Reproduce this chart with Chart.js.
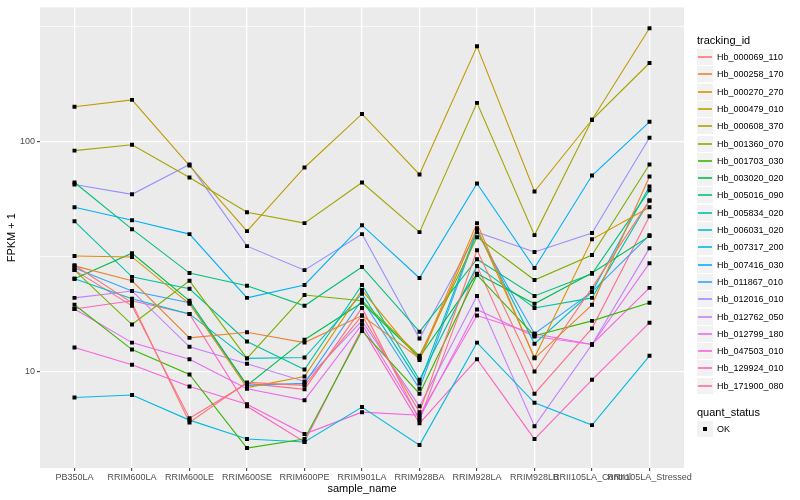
<!DOCTYPE html>
<html>
<head>
<meta charset="utf-8">
<script src="https://cdn.jsdelivr.net/npm/chart.js@4.4.1/dist/chart.umd.min.js"></script>
<style>
  body { margin: 0; background: #fff; }
  #wrap { position: relative; width: 800px; height: 500px; font-family: "Liberation Sans", Arial, sans-serif; }
  #chart { position: absolute; left: 0; top: 0; }
  .lg { position: absolute; white-space: nowrap; }
  .lg-title { font-size: 11px; color: #000; line-height: 14px; }
  .lg-key { width: 16px; height: 16px; background: #F2F2F2; }
  .lg-line { position: absolute; left: 1px; right: 1px; top: 7px; height: 2px; opacity: 0.8; }
  .lg-text { font-size: 9px; color: #000; line-height: 12px; }
</style>
</head>
<body>
<div id="wrap">
  <canvas id="chart" width="800" height="500"></canvas>
  <div id="legend"></div>
</div>
<script>
// --- DATA ---
const sampleNames = ["PB350LA", "RRIM600LA", "RRIM600LE", "RRIM600SE", "RRIM600PE", "RRIM901LA",
  "RRIM928BA", "RRIM928LA", "RRIM928LB", "RRII105LA_Control", "RRII105LA_Stressed"];

const trackingIds = ["Hb_000069_110", "Hb_000258_170", "Hb_000270_270", "Hb_000479_010", "Hb_000608_370",
  "Hb_001360_070", "Hb_001703_030", "Hb_003020_020", "Hb_005016_090", "Hb_005834_020",
  "Hb_006031_020", "Hb_007317_200", "Hb_007416_030", "Hb_011867_010", "Hb_012016_010",
  "Hb_012762_050", "Hb_012799_180", "Hb_047503_010", "Hb_129924_010", "Hb_171900_080"];

const lineColors = ["#F8766D", "#EA8331", "#D89000", "#C09B00", "#A3A500", "#7CAE00", "#39B600", "#00BB4E",
  "#00BF7D", "#00C1A3", "#00BFC4", "#00BAE0", "#00B0F6", "#35A2FF", "#9590FF", "#C77CFF",
  "#E76BF3", "#FA62DB", "#FF62BC", "#FF6C91"];

// FPKM + 1, one value per sample
const hb000069 = [29.0, 19.9, 6.0, 8.96, 8.7, 17.5, 6.65, 33.7, 10.0, 23.1, 55.5];
const hb000258 = [28.8, 24.8, 14.0, 14.8, 13.35, 17.5, 11.4, 44.2, 11.4, 19.5, 70.5];
const hb000270 = [31.8, 31.5, 19.7, 8.5, 9.5, 22.6, 11.2, 42.0, 11.5, 37.6, 51.8];
const hb000479 = [142, 152, 78.7, 40.8, 77.2, 132, 72, 260, 60.7, 124.5, 311.5];
const hb000608 = [91.4, 97, 69.8, 49.3, 44.2, 66.4, 40.4, 147.5, 39.2, 124.5, 220];
const hb001360 = [27.6, 16.0, 24.8, 11.4, 21.5, 20.3, 11.7, 38.4, 25.0, 32.1, 79.5];
const hb001703 = [19.5, 12.45, 9.7, 4.64, 5.08, 15.0, 8.0, 26.3, 14.3, 16.6, 19.9];
const hb003020 = [25.3, 32.7, 20.3, 8.7, 13.75, 19.9, 11.5, 26.6, 19.7, 26.8, 38.8];
const hb005016 = [66.4, 41.6, 26.8, 23.6, 19.3, 28.5, 14.9, 30.8, 21.3, 26.6, 61.4];
const hb005834 = [45.0, 25.8, 22.9, 13.5, 10.2, 23.8, 9.2, 28.8, 18.9, 20.9, 55.5];
const hb006031 = [25.3, 20.7, 17.8, 11.4, 11.5, 21.8, 8.87, 41.2, 13.2, 22.2, 63.9];
const hb007317 = [7.7, 7.9, 6.14, 5.08, 4.93, 7.0, 4.78, 13.35, 7.3, 5.84, 11.7];
const hb007416 = [51.8, 45.5, 39.6, 20.9, 23.8, 43.3, 25.5, 65.8, 28.2, 71.2, 122];
const hb011867 = [28.2, 22.4, 19.9, 8.7, 8.87, 20.5, 8.4, 40.4, 14.6, 22.2, 39.2];
const hb012016 = [65.1, 59.0, 79.5, 35.1, 27.6, 39.6, 13.9, 40.4, 33.1, 40.0, 104];
const hb012762 = [20.9, 22.4, 12.8, 10.8, 9.05, 16.6, 7.05, 21.3, 5.78, 13.1, 34.4];
const hb012799 = [18.7, 13.35, 11.3, 8.4, 7.5, 16.0, 6.26, 18.6, 14.2, 13.1, 29.6];
const hb047503 = [12.7, 10.7, 8.6, 7.2, 5.34, 6.65, 6.45, 17.5, 14.6, 13.1, 23.1];
const hb129924 = [18.7, 20.3, 17.8, 7.05, 4.93, 15.4, 5.95, 11.3, 5.08, 9.2, 16.3];
const hb171900 = [27.6, 19.3, 6.26, 8.87, 8.36, 18.9, 6.14, 28.8, 8.0, 15.4, 47.4];

const seriesValues = [hb000069, hb000258, hb000270, hb000479, hb000608, hb001360, hb001703, hb003020,
  hb005016, hb005834, hb006031, hb007317, hb007416, hb011867, hb012016, hb012762,
  hb012799, hb047503, hb129924, hb171900];

const yMajorTicks = [10, 100];
const yMinorTicks = [31.62, 316.2];
const quantStatus = ["OK"];

// --- CHART ---
function toPoints(values) {
  return values.map((v, i) => ({ x: i, y: v }));
}

const lineSets = seriesValues.map((vals, i) => ({
  label: trackingIds[i],
  data: toPoints(vals),
  borderColor: lineColors[i],
  borderWidth: 1.1,
  pointRadius: 0,
  tension: 0,
  order: 1
}));

const pointSets = seriesValues.map((vals, i) => ({
  label: trackingIds[i] + " " + quantStatus[0],
  data: toPoints(vals),
  showLine: false,
  pointStyle: "rect",
  pointRadius: 2.8,
  pointBackgroundColor: "#000",
  pointBorderWidth: 0,
  order: 0
}));

const panelBg = {
  id: "panelBg",
  beforeDraw(chart) {
    const { ctx, chartArea: a } = chart;
    ctx.save();
    ctx.fillStyle = "#EBEBEB";
    ctx.fillRect(a.left, a.top, a.right - a.left, a.bottom - a.top);
    ctx.restore();
  }
};

const isMajor = v => yMajorTicks.some(t => Math.abs(t - v) < 1e-6);

new Chart(document.getElementById("chart"), {
  type: "line",
  data: { datasets: lineSets.concat(pointSets) },
  options: {
    responsive: false,
    animation: false,
    layout: { padding: { top: 5, right: 116, left: 0, bottom: 0 } },
    plugins: { legend: { display: false }, tooltip: { enabled: false } },
    scales: {
      x: {
        type: "linear",
        min: -0.6,
        max: sampleNames.length - 0.4,
        afterBuildTicks: s => { s.ticks = sampleNames.map((_, i) => ({ value: i })); },
        afterFit: s => { s.height = 32; },
        ticks: {
          autoSkip: false, maxRotation: 0, minRotation: 0, padding: 1,
          color: "#4D4D4D", font: { family: "Liberation Sans", size: 9 },
          callback: v => sampleNames[v]
        },
        grid: { color: "#FFFFFF", lineWidth: 1.3, tickLength: 3, tickColor: "#333333", tickWidth: 1 },
        border: { display: false },
        title: {
          display: true, text: "sample_name", color: "#000",
          font: { family: "Liberation Sans", size: 11 }, padding: { top: 0, bottom: 4 }
        }
      },
      y: {
        type: "logarithmic",
        min: 3.8,
        max: 384,
        afterBuildTicks: s => {
          s.ticks = yMajorTicks.concat(yMinorTicks).sort((a, b) => a - b).map(v => ({ value: v }));
        },
        afterFit: s => { s.width = 40; },
        ticks: {
          padding: 2, color: "#4D4D4D", font: { family: "Liberation Sans", size: 9 },
          callback: v => (isMajor(v) ? String(v) : "")
        },
        grid: {
          color: "#FFFFFF",
          lineWidth: c => (isMajor(c.tick.value) ? 1.3 : 0.7),
          tickLength: 3,
          tickColor: c => (isMajor(c.tick.value) ? "#333333" : "rgba(0,0,0,0)"),
          tickWidth: 1
        },
        border: { display: false },
        title: {
          display: true, text: "FPKM + 1", color: "#000",
          font: { family: "Liberation Sans", size: 11 }, padding: { top: 5, bottom: 0 }
        }
      }
    }
  },
  plugins: [panelBg]
});

// --- LEGEND (ggplot style, right side) ---
const legend = document.getElementById("legend");
function addEl(cls, left, top, html) {
  const d = document.createElement("div");
  d.className = "lg " + cls;
  d.style.left = left + "px";
  d.style.top = Math.round(top) + "px";
  if (html) d.innerHTML = html;
  legend.appendChild(d);
  return d;
}

addEl("lg-title", 697, 33, "tracking_id");
trackingIds.forEach((id, i) => {
  const top = 49 + i * 17.3;
  const key = addEl("lg-key", 697, top);
  const ln = document.createElement("div");
  ln.className = "lg-line";
  ln.style.background = lineColors[i];
  key.appendChild(ln);
  addEl("lg-text", 717, top + 2, id);
});

addEl("lg-title", 697, 405, "quant_status");
quantStatus.forEach((q, i) => {
  const top = 421 + i * 17.3;
  const key = addEl("lg-key", 697, top);
  const sq = document.createElement("div");
  sq.style.cssText = "position:absolute;left:6px;top:6px;width:4px;height:4px;background:#000;";
  key.appendChild(sq);
  addEl("lg-text", 717, top + 2, q);
});
</script>
</body>
</html>
